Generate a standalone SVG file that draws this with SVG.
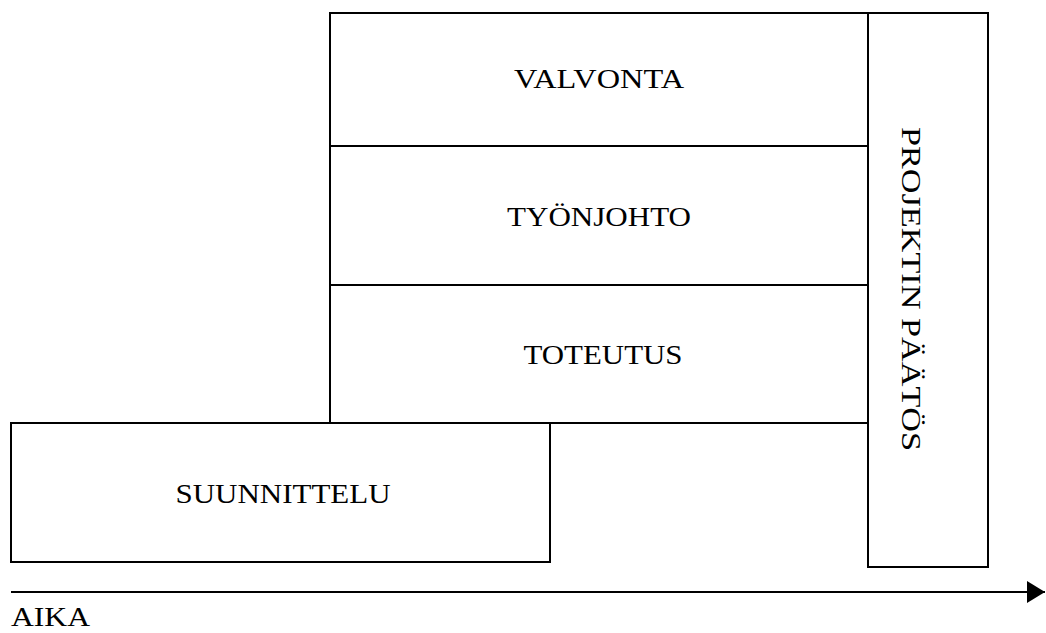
<svg xmlns="http://www.w3.org/2000/svg" width="1046" height="633" viewBox="0 0 1046 633">
  <style>
    .box { fill: #ffffff; stroke: #000000; stroke-width: 2; }
    .lbl { font-family: "Liberation Serif", "Times New Roman", serif; font-size: 28px; fill: #000000; }
    .mid { text-anchor: middle; }
    .axis { stroke: #000000; stroke-width: 2; fill: none; }
  </style>
  <defs>
    <marker id="arrowhead" markerUnits="userSpaceOnUse" markerWidth="18" markerHeight="22" refX="18" refY="11" orient="auto">
      <path d="M0,0 L18,11 L0,22 Z" fill="#000000"/>
    </marker>
  </defs>
  <rect width="1046" height="633" fill="#ffffff"/>

  <!-- stacked phase blocks; labels stretched to a wide typewriter look -->
  <g id="valvonta">
    <rect class="box" x="330" y="13" width="538" height="133"/>
    <text class="lbl mid" x="599" y="88" textLength="170" lengthAdjust="spacingAndGlyphs">VALVONTA</text>
  </g>
  <g id="tyonjohto">
    <rect class="box" x="330" y="146" width="538" height="139"/>
    <text class="lbl mid" x="599" y="226" textLength="184" lengthAdjust="spacingAndGlyphs">TYÖNJOHTO</text>
  </g>
  <g id="toteutus">
    <rect class="box" x="330" y="285" width="538" height="138"/>
    <text class="lbl mid" x="603" y="364" textLength="159" lengthAdjust="spacingAndGlyphs">TOTEUTUS</text>
  </g>
  <g id="suunnittelu">
    <rect class="box" x="11" y="423" width="539" height="139"/>
    <text class="lbl mid" x="283" y="503" textLength="215" lengthAdjust="spacingAndGlyphs">SUUNNITTELU</text>
  </g>
  <g id="projektin-paatos">
    <rect class="box" x="868" y="13" width="120" height="554"/>
    <text class="lbl mid" transform="translate(902,289) rotate(90)" textLength="324" lengthAdjust="spacingAndGlyphs">PROJEKTIN PÄÄTÖS</text>
  </g>

  <!-- time axis -->
  <g id="connectors">
    <line class="axis" x1="11" y1="592" x2="1045" y2="592" marker-end="url(#arrowhead)"/>
  </g>
  <text class="lbl" x="11" y="626" textLength="79" lengthAdjust="spacingAndGlyphs">AIKA</text>
</svg>
